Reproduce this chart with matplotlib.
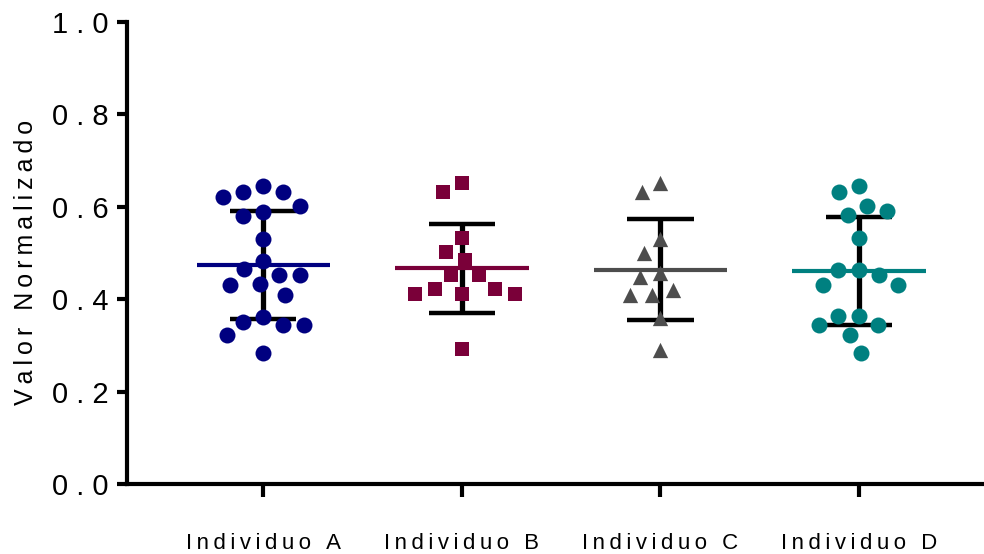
import numpy as np
import matplotlib
matplotlib.use("Agg")
import matplotlib.pyplot as plt

plt.rcParams['font.family'] = ['Liberation Sans', 'DejaVu Sans']

# --- data -------------------------------------------------------------
categories = ["Individuo A", "Individuo B", "Individuo C", "Individuo D"]

valores_a = [0.644, 0.622, 0.631, 0.631, 0.602, 0.589, 0.580, 0.530, 0.483,
             0.465, 0.452, 0.452, 0.433, 0.431, 0.409, 0.362, 0.344, 0.344,
             0.351, 0.322, 0.284]
valores_b = [0.652, 0.631, 0.532, 0.503, 0.485, 0.452, 0.452, 0.421, 0.421,
             0.411, 0.411, 0.411, 0.292]
valores_c = [0.651, 0.631, 0.530, 0.501, 0.457, 0.449, 0.420, 0.409, 0.409,
             0.359, 0.290]
valores_d = [0.644, 0.631, 0.602, 0.591, 0.582, 0.532, 0.463, 0.463, 0.452,
             0.431, 0.431, 0.364, 0.364, 0.344, 0.344, 0.323, 0.284]

y_ticks = [0.0, 0.2, 0.4, 0.6, 0.8, 1.0]

# --- styling ----------------------------------------------------------
colors = ["#000080", "#7a0039", "#4d4d4d", "#008080"]
markers = ["o", "s", "^", "o"]
marker_sizes = [11.5, 10.0, 11.0, 11.5]


def spaced(text, sep=" "):
    return sep.join(text)


def swarm_offsets(vals, diam_px, px_per_y, px_per_x):
    """Place points side by side so that markers do not overlap."""
    vals = np.asarray(vals, dtype=float)
    order = np.argsort(-vals, kind="stable")
    placed = []
    offs = np.zeros(len(vals))
    for i in order:
        y = vals[i] * px_per_y
        cands = [0.0]
        for xj, yj in placed:
            dy = y - yj
            if abs(dy) < diam_px:
                dx = np.sqrt(diam_px ** 2 - dy ** 2)
                cands += [xj - dx, xj + dx]
        cands.sort(key=lambda c: (round(abs(c), 6), c))
        for c in cands:
            if all((c - xj) ** 2 + (y - yj) ** 2 >= diam_px ** 2 - 1e-6
                   for xj, yj in placed):
                offs[i] = c
                break
        placed.append((offs[i], y))
    return offs / px_per_x


fig = plt.figure(figsize=(9.84, 5.54), dpi=100)
ax = fig.add_axes([0.129, 0.1264, 0.871, 0.8339])
ax.set_xlim(-0.687, 3.63)
ax.set_ylim(0, 1.0)

bbox = ax.get_window_extent()
px_per_x = bbox.width / (3.63 + 0.687)
px_per_y = bbox.height / 1.0

groups = [valores_a, valores_b, valores_c, valores_d]
for i, vals in enumerate(groups):
    vals = np.asarray(vals)
    mean = vals.mean()
    sd = vals.std(ddof=1)
    # error bar (mean +/- SD)
    ax.vlines(i, mean - sd, mean + sd, color="black", lw=3.8, zorder=2)
    ax.hlines([mean - sd, mean + sd], i - 0.167, i + 0.167,
              color="black", lw=3.2, zorder=2)
    # mean line
    ax.hlines(mean, i - 0.336, i + 0.336, color=colors[i], lw=3.0, zorder=3)
    # points
    offs = swarm_offsets(vals, 21.0, px_per_y, px_per_x)
    ax.scatter(i + offs, vals, marker=markers[i],
               s=marker_sizes[i] ** 2, color=colors[i], linewidths=0,
               zorder=4, clip_on=False)

# --- axes -------------------------------------------------------------
for side in ("top", "right"):
    ax.spines[side].set_visible(False)
for side in ("left", "bottom"):
    ax.spines[side].set_linewidth(3.0)
    ax.spines[side].set_capstyle("projecting")

ax.set_yticks(y_ticks)
ax.set_yticklabels([spaced(f"{v:.1f}") for v in y_ticks], fontsize=21)
ax.set_xticks(range(len(categories)))
ax.set_xticklabels([spaced(c, "\u2009") for c in categories], fontsize=16)

ax.tick_params(axis="y", length=7, width=3.0, pad=6)
ax.tick_params(axis="x", length=9, width=3.0, pad=26)

ax.set_ylabel(spaced("Valor Normalizado", "\u2009"), fontsize=18)
ax.yaxis.set_label_coords(-0.104, 0.48)

fig.savefig("out.png", dpi=100)
